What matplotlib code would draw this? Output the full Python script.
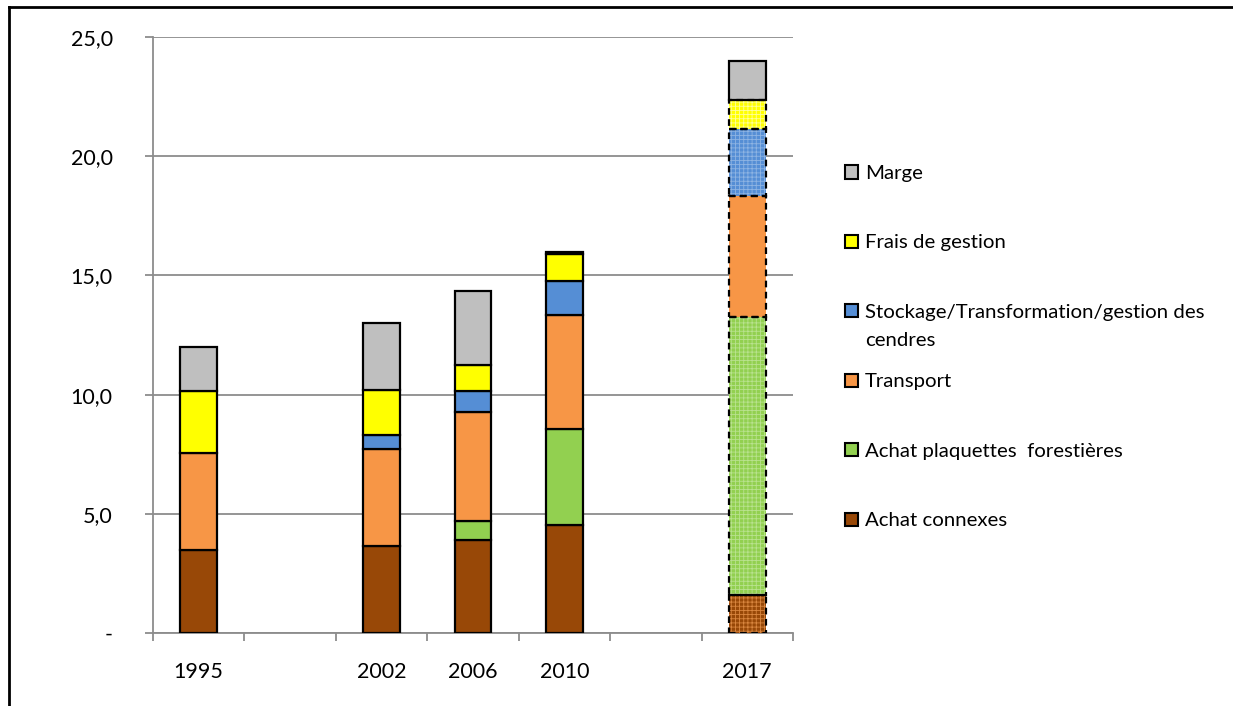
import numpy as np
import matplotlib
matplotlib.use("Agg")
import matplotlib.pyplot as plt
from matplotlib.patches import Rectangle
from matplotlib.lines import Line2D
from matplotlib.ticker import FixedLocator, FuncFormatter

plt.rcParams["font.family"] = ["Lato", "DejaVu Sans"]
plt.rcParams["hatch.linewidth"] = 0.6

# Category slots (empty slots keep the time spacing between years)
categories = ["1995", "", "2002", "2006", "2010", "", "2017"]
projected = [False, False, False, False, False, False, True]

# Cost components (EUR/MWh), bottom to top; NaN = empty slot
achat_connexes = [3.5, np.nan, 3.65, 3.9, 4.55, np.nan, 1.6]
achat_plaquettes = [0.0, np.nan, 0.0, 0.8, 4.0, np.nan, 11.65]
transport = [4.05, np.nan, 4.05, 4.55, 4.8, np.nan, 5.1]
stockage = [0.0, np.nan, 0.6, 0.9, 1.4, np.nan, 2.8]
frais_gestion = [2.6, np.nan, 1.9, 1.1, 1.15, np.nan, 1.2]
marge = [1.85, np.nan, 2.8, 3.1, 0.1, np.nan, 1.65]

series_labels = [
    "Achat connexes",
    "Achat plaquettes  forestières",
    "Transport",
    "Stockage/Transformation/gestion des\ncendres",
    "Frais de gestion",
    "Marge",
]
series_values = [achat_connexes, achat_plaquettes, transport, stockage,
                 frais_gestion, marge]
face_colors = ["#984807", "#92D050", "#F79646", "#558ED5", "#FFFF00", "#BFBFBF"]
hatch_colors = ["#D9863F", "#B9E28F", "#F79646", "#8EB4E3", "#FFFF9A", "#BFBFBF"]
dashed_when_projected = [True, True, True, True, True, False]

y_ticks = [0, 5, 10, 15, 20, 25]

W, H = 1233, 706
fig = plt.figure(figsize=(W / 100, H / 100), dpi=100)
ax = fig.add_axes([153 / W, 1 - 633 / H, (793 - 153) / W, (633 - 37) / H])

x = np.arange(len(categories))
bar_w = 0.4
bottoms = np.zeros(len(categories))
for vals, fc, hc, dashed in zip(series_values, face_colors, hatch_colors,
                                dashed_when_projected):
    vals = np.asarray(vals, dtype=float)
    for i in range(len(categories)):
        v = vals[i]
        if np.isnan(v) or v <= 0:
            continue
        if projected[i] and dashed:
            ax.bar(x[i], v, bar_w, bottom=bottoms[i], color=fc,
                   edgecolor=hc, hatch="++++", linewidth=0, zorder=3)
            ax.bar(x[i], v, bar_w, bottom=bottoms[i], fill=False,
                   edgecolor="black", linewidth=1.6, linestyle=(0, (3, 2)),
                   zorder=4)
        else:
            ax.bar(x[i], v, bar_w, bottom=bottoms[i], color=fc,
                   edgecolor="black", linewidth=1.6, zorder=3)
    bottoms = bottoms + np.nan_to_num(vals)

ax.set_xlim(-0.5, len(categories) - 0.5)
ax.set_ylim(0, 25)

grid_col = "#8C8C8C"
ax.yaxis.set_major_locator(FixedLocator(y_ticks))
ax.yaxis.set_major_formatter(FuncFormatter(
    lambda v, p: "-" if v == 0 else f"{v:.1f}".replace(".", ",")))
ax.grid(axis="y", color=grid_col, linewidth=1.3, zorder=0)
ax.set_axisbelow(True)

ax.set_xticks(x)
ax.set_xticklabels(categories)
ax.set_xticks(np.arange(len(categories) + 1) - 0.5, minor=True)
ax.tick_params(axis="x", which="major", length=0, pad=21, labelsize=15.5)
ax.tick_params(axis="x", which="minor", length=6, width=1.3, color=grid_col,
               direction="out")
ax.tick_params(axis="y", length=6, width=1.3, color=grid_col, pad=23,
               labelsize=15.5)

for s in ("top", "right"):
    ax.spines[s].set_visible(False)
for s in ("left", "bottom"):
    ax.spines[s].set_color(grid_col)
    ax.spines[s].set_linewidth(1.3)

# Legend, top entry = last series
legend_top = 172
row_step = 69.4
line_px = 28
for k, idx in enumerate(reversed(range(len(series_labels)))):
    cy = legend_top + k * row_step
    label = series_labels[idx]
    n_lines = label.count("\n") + 1
    fig.add_artist(Rectangle((845 / W, 1 - (cy + 6.5) / H), 13 / W, 13 / H,
                             transform=fig.transFigure, facecolor=face_colors[idx],
                             edgecolor="black", linewidth=1.5))
    fig.text(865 / W, 1 - (cy + 7 + (n_lines - 1) * line_px) / H, label,
             fontsize=14.7, va="baseline", ha="left", linespacing=1.75)

# Chart frame
fig.add_artist(Line2D([9 / W, 1.0], [1 - 7 / H, 1 - 7 / H], color="black",
                      linewidth=2, transform=fig.transFigure))
fig.add_artist(Line2D([9 / W, 9 / W], [0, 1 - 7 / H], color="black",
                      linewidth=2, transform=fig.transFigure))

fig.savefig("out.png", dpi=100)
